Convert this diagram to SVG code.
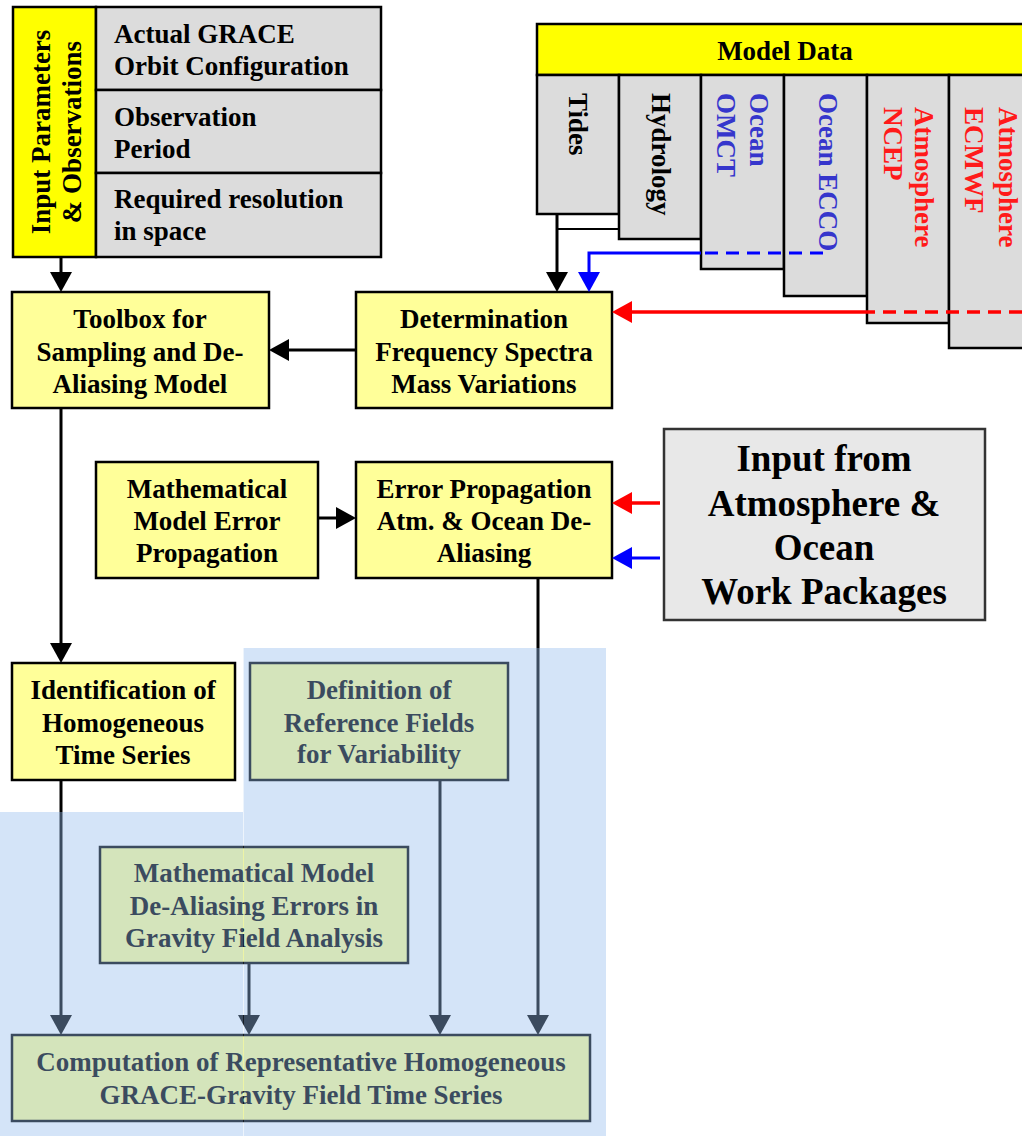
<svg xmlns="http://www.w3.org/2000/svg" width="1022" height="1136" viewBox="0 0 1022 1136">
  <style>
    text { font-family: "Liberation Serif", "Times New Roman", serif; font-weight: bold; font-size: 27px; fill: #000; }
    .c { text-anchor: middle; }
    .box { fill: #ffff99; stroke: #000; stroke-width: 2.5; }
    .hdr { fill: #ffff00; stroke: #000; stroke-width: 2.5; }
    .cell { fill: #dcdcdc; stroke: #000; stroke-width: 2.5; }
    .blue { fill: #3636cc; }
    .red { fill: #ff1a1a; }
    .big { font-size: 37px; }
    .ln { fill: none; stroke: #000; stroke-width: 3; }
    .lnb { fill: none; stroke: #0000ff; stroke-width: 3; }
    .lnr { fill: none; stroke: #ff0000; stroke-width: 3.5; }
    .dash { stroke-dasharray: 13 8; }
    .veil { fill: rgb(148,188,238); fill-opacity: 0.4; }
  </style>
  <defs>
    <marker id="ah" markerUnits="userSpaceOnUse" markerWidth="22" markerHeight="24" refX="0" refY="11" orient="auto">
      <path d="M0,0 L20,11 L0,22 z" fill="#000"/>
    </marker>
    <marker id="ahb" markerUnits="userSpaceOnUse" markerWidth="22" markerHeight="24" refX="0" refY="11" orient="auto">
      <path d="M0,0 L20,11 L0,22 z" fill="#0000ff"/>
    </marker>
    <marker id="ahr" markerUnits="userSpaceOnUse" markerWidth="22" markerHeight="24" refX="0" refY="11" orient="auto">
      <path d="M0,0 L20,11 L0,22 z" fill="#ff0000"/>
    </marker>
  </defs>

  <rect width="1022" height="1136" fill="#fff"/>

  <!-- input parameters block -->
  <g id="input-parameters">
    <rect class="hdr" x="13" y="7" width="83" height="250"/>
    <text class="c" transform="translate(50,132) rotate(-90)">Input Parameters</text>
    <text class="c" transform="translate(81,132) rotate(-90)">&amp; Observations</text>
  </g>
  <g id="orbit-configuration">
    <rect class="cell" x="96" y="7" width="285" height="83"/>
    <text x="114" y="43">Actual GRACE</text>
    <text x="114" y="75">Orbit Configuration</text>
  </g>
  <g id="observation-period">
    <rect class="cell" x="96" y="90" width="285" height="83"/>
    <text x="114" y="126">Observation</text>
    <text x="114" y="158">Period</text>
  </g>
  <g id="resolution">
    <rect class="cell" x="96" y="173" width="285" height="84"/>
    <text x="114" y="208">Required resolution</text>
    <text x="114" y="240">in space</text>
  </g>

  <!-- model data block -->
  <g id="model-data">
    <rect class="hdr" x="537" y="24" width="495" height="51"/>
    <text class="c" x="785" y="60">Model Data</text>
  </g>
  <g id="tides">
    <rect class="cell" x="537" y="75" width="82" height="139"/>
    <text transform="translate(569,93) rotate(90)">Tides</text>
  </g>
  <g id="hydrology">
    <rect class="cell" x="619" y="75" width="82" height="164"/>
    <text transform="translate(652,93) rotate(90)">Hydrology</text>
  </g>
  <g id="ocean-omct">
    <rect class="cell" x="701" y="75" width="83" height="194"/>
    <text class="blue" transform="translate(750,93) rotate(90)">Ocean</text>
    <text class="blue" transform="translate(717,93) rotate(90)">OMCT</text>
  </g>
  <g id="ocean-ecco">
    <rect class="cell" x="784" y="75" width="83" height="221"/>
    <text class="blue" transform="translate(819,93) rotate(90)">Ocean ECCO</text>
  </g>
  <g id="atmosphere-ncep">
    <rect class="cell" x="867" y="75" width="82" height="248"/>
    <text class="red" transform="translate(915,107) rotate(90)">Atmosphere</text>
    <text class="red" transform="translate(884,107) rotate(90)">NCEP</text>
  </g>
  <g id="atmosphere-ecmwf">
    <rect class="cell" x="949" y="75" width="83" height="273"/>
    <text class="red" transform="translate(999,107) rotate(90)">Atmosphere</text>
    <text class="red" transform="translate(965,107) rotate(90)">ECMWF</text>
  </g>

  <!-- process boxes -->
  <g id="toolbox">
    <rect class="box" x="12" y="292" width="257" height="116"/>
    <text class="c" x="140" y="328">Toolbox for</text>
    <text class="c" x="140" y="361">Sampling and De-</text>
    <text class="c" x="140" y="393">Aliasing Model</text>
  </g>
  <g id="frequency-spectra">
    <rect class="box" x="356" y="292" width="256" height="116"/>
    <text class="c" x="484" y="328">Determination</text>
    <text class="c" x="484" y="361">Frequency Spectra</text>
    <text class="c" x="484" y="393">Mass Variations</text>
  </g>
  <g id="math-error-model">
    <rect class="box" x="96" y="462" width="222" height="116"/>
    <text class="c" x="207" y="498">Mathematical</text>
    <text class="c" x="207" y="530">Model Error</text>
    <text class="c" x="207" y="562">Propagation</text>
  </g>
  <g id="error-propagation">
    <rect class="box" x="356" y="462" width="256" height="116"/>
    <text class="c" x="484" y="498">Error Propagation</text>
    <text class="c" x="484" y="530">Atm. &amp; Ocean De-</text>
    <text class="c" x="484" y="562">Aliasing</text>
  </g>
  <g id="work-packages">
    <rect x="664" y="429" width="321" height="191" fill="#e8e8e8" stroke="#333" stroke-width="2.5"/>
    <text class="c big" x="824" y="471">Input from</text>
    <text class="c big" x="824" y="516">Atmosphere &amp;</text>
    <text class="c big" x="824" y="560">Ocean</text>
    <text class="c big" x="824" y="604">Work Packages</text>
  </g>
  <g id="homogeneous-series">
    <rect class="box" x="12" y="663" width="223" height="117"/>
    <text class="c" x="123" y="699">Identification of</text>
    <text class="c" x="123" y="732">Homogeneous</text>
    <text class="c" x="123" y="764">Time Series</text>
  </g>
  <g id="reference-fields">
    <rect class="box" x="250" y="663" width="258" height="117"/>
    <text class="c" x="379" y="699">Definition of</text>
    <text class="c" x="379" y="732">Reference Fields</text>
    <text class="c" x="379" y="763">for Variability</text>
  </g>
  <g id="dealiasing-errors">
    <rect class="box" x="100" y="847" width="308" height="116"/>
    <text class="c" x="254" y="882">Mathematical Model</text>
    <text class="c" x="254" y="915">De-Aliasing Errors in</text>
    <text class="c" x="254" y="947">Gravity Field Analysis</text>
  </g>
  <g id="computation">
    <rect class="box" x="12" y="1035" width="578" height="86"/>
    <text class="c" x="301" y="1071">Computation of Representative Homogeneous</text>
    <text class="c" x="301" y="1104">GRACE-Gravity Field Time Series</text>
  </g>

  <!-- connectors -->
  <g id="connectors">
    <line class="ln" x1="61" y1="257" x2="61" y2="272" marker-end="url(#ah)"/>
    <line class="ln" x1="356" y1="350" x2="289" y2="350" marker-end="url(#ah)"/>
    <line class="ln" x1="61" y1="408" x2="61" y2="643" marker-end="url(#ah)"/>
    <line class="ln" x1="318" y1="518" x2="336" y2="518" marker-end="url(#ah)"/>
    <line class="ln" x1="557" y1="214" x2="557" y2="272" stroke-width="3.5" marker-end="url(#ah)"/>
    <line x1="557" y1="229" x2="619" y2="229" stroke="#000" stroke-width="2"/>
    <path class="lnb dash" d="M823,253 H701"/>
    <path class="lnb" d="M701,253 H589 V272" marker-end="url(#ahb)"/>
    <path class="lnr dash" d="M1022,312 H867"/>
    <path class="lnr" d="M867,312 H632" marker-end="url(#ahr)"/>
    <path class="lnr" d="M660,503 H632" marker-end="url(#ahr)"/>
    <path class="lnb" d="M660,558 H632" marker-end="url(#ahb)"/>
    <line class="ln" x1="538" y1="578" x2="538" y2="1015" marker-end="url(#ah)"/>
    <line class="ln" x1="440" y1="780" x2="440" y2="1015" marker-end="url(#ah)"/>
    <line class="ln" x1="249" y1="963" x2="249" y2="1015" marker-end="url(#ah)"/>
    <line class="ln" x1="61" y1="780" x2="61" y2="1015" marker-end="url(#ah)"/>
  </g>

  <!-- translucent highlight over the lower work area -->
  <rect class="veil" x="0" y="812" width="243" height="324"/>
  <rect class="veil" x="243.6" y="648" width="362.4" height="488"/>
</svg>
